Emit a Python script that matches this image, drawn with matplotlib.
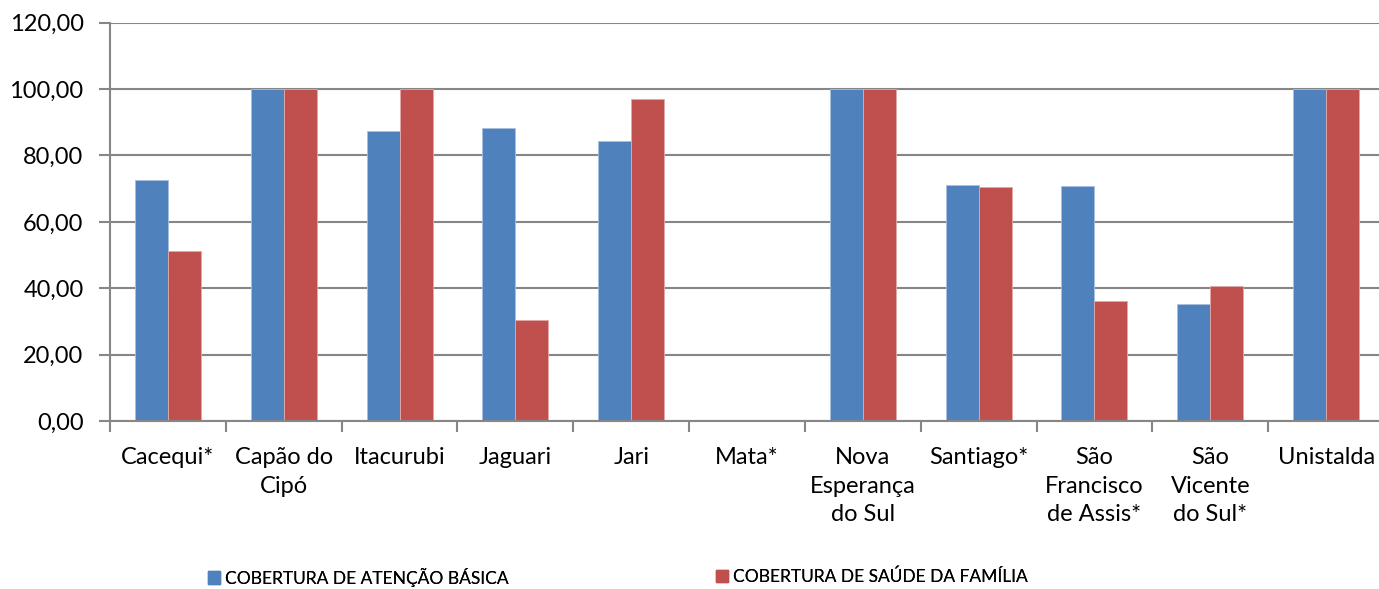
import matplotlib
matplotlib.use("Agg")
import matplotlib.pyplot as plt
import matplotlib.patches as mpatches
import numpy as np

plt.rcParams['font.family'] = ['Lato', 'DejaVu Sans']

# Municípios e coberturas (%)
municipios = ["Cacequi*", "Capão do\nCipó", "Itacurubi", "Jaguari", "Jari", "Mata*",
              "Nova\nEsperança\ndo Sul", "Santiago*", "São\nFrancisco\nde Assis*",
              "São\nVicente\ndo Sul*", "Unistalda"]
atencao_basica = [72.5, 100.0, 87.4, 88.3, 84.5, 0.0, 100.0, 71.0, 70.9, 35.3, 100.0]
saude_familia = [51.3, 100.0, 100.0, 30.4, 97.1, 0.0, 100.0, 70.4, 36.2, 40.7, 100.0]
nomes_series = ["COBERTURA DE ATENÇÃO BÁSICA", "COBERTURA DE SAÚDE DA FAMÍLIA"]

azul = "#4f81bd"
vermelho = "#c0504d"
cinza = "#868686"

W, H = 1379, 589
fig = plt.figure(figsize=(W / 100, H / 100), dpi=100)
# eixo vai um pouco além da borda direita, como no original
ax = fig.add_axes([110 / W, 1 - 421 / H, (1384 - 110) / W, (421 - 22.7) / H])

x = np.arange(len(municipios))
larg = 0.285
ax.bar(x - larg / 2, atencao_basica, larg, color=azul,
       edgecolor="#a9c0e0", linewidth=0.6)
ax.bar(x + larg / 2, saude_familia, larg, color=vermelho,
       edgecolor="#e3a9a8", linewidth=0.6)

ax.set_xlim(-0.5, len(municipios) - 0.5)
ax.set_ylim(0, 120)
ax.set_yticks(np.arange(0, 121, 20))
ax.set_yticklabels([f"{v:.2f}".replace(".", ",") for v in np.arange(0, 121, 20)], fontsize=17)

# grade horizontal
ax.grid(axis="y", color=cinza, linewidth=1.5)
ax.set_axisbelow(True)

# ticks nas divisões entre categorias, rótulos no centro
ax.set_xticks(np.arange(-0.5, len(municipios), 1))
ax.set_xticklabels([])
ax.set_xticks(x, minor=True)
ax.set_xticklabels(municipios, minor=True, fontsize=17, linespacing=1.42, va="top")
ax.tick_params(axis="x", which="minor", length=0, pad=19)
ax.tick_params(axis="x", which="major", length=8, width=1.5, color=cinza, direction="out")
ax.tick_params(axis="y", length=8, width=1.5, color=cinza, direction="out", pad=11)

for lado in ["top", "right"]:
    ax.spines[lado].set_visible(False)
ax.spines["left"].set_color(cinza)
ax.spines["left"].set_linewidth(1.5)
ax.spines["bottom"].set_color(cinza)
ax.spines["bottom"].set_linewidth(1.5)

# legenda: duas entradas posicionadas separadamente
for nome, cor, x0 in [(nomes_series[0], azul, 208), (nomes_series[1], vermelho, 716)]:
    leg = fig.legend(handles=[mpatches.Patch(color=cor, label=nome)], loc="center left",
                     bbox_to_anchor=(x0 / W, 1 - 577 / H), frameon=False, fontsize=12.5,
                     handlelength=0.7, handleheight=0.7, handletextpad=0.3, borderpad=0,
                     borderaxespad=0)
    fig.add_artist(leg)

fig.savefig("out.png", dpi=100)
